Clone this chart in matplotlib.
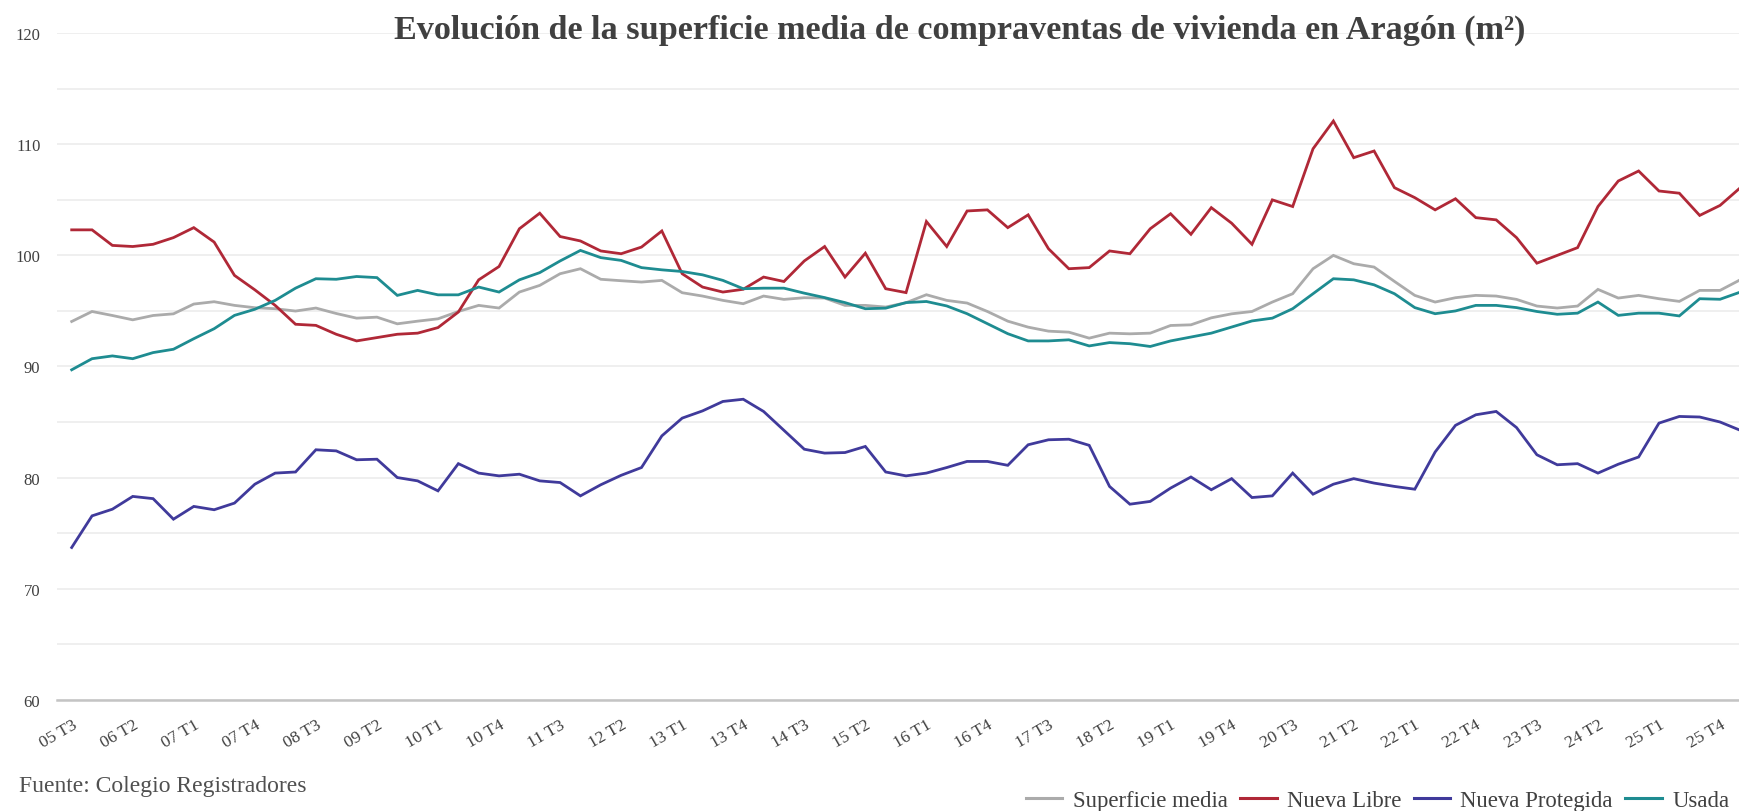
import numpy as np
import matplotlib
matplotlib.use("Agg")
from matplotlib import pyplot as plt
from matplotlib.lines import Line2D

plt.rcParams['font.family'] = ['Liberation Serif', 'DejaVu Serif']

# trimestres 05 T3 ... 26 T1
trimestres = [f"{a % 100:02d} T{t}" for a in range(2005, 2027) for t in range(1, 5)]
trimestres = trimestres[2:2 + 83]

superficie_media = [
    94.05, 94.95, 94.59, 94.20, 94.59, 94.74, 95.62, 95.83, 95.50, 95.29,
    95.20, 94.99, 95.26, 94.77, 94.35, 94.44, 93.84, 94.08, 94.29, 94.95,
    95.50, 95.26, 96.70, 97.30, 98.35, 98.80, 97.85, 97.72, 97.60, 97.75,
    96.64, 96.34, 95.95, 95.65, 96.34, 96.04, 96.19, 96.16, 95.50, 95.50,
    95.35, 95.74, 96.46, 95.95, 95.71, 94.95, 94.08, 93.54, 93.18, 93.09,
    92.55, 93.00, 92.94, 93.00, 93.69, 93.75, 94.38, 94.74, 94.95, 95.80,
    96.55, 98.80, 100.0, 99.25, 98.95, 97.66, 96.40, 95.80, 96.19, 96.40,
    96.34, 96.04, 95.44, 95.26, 95.44, 96.94, 96.16, 96.40, 96.10, 95.86,
    96.85, 96.85, 97.81]

nueva_libre = [
    102.3, 102.3, 100.9, 100.8, 101.0, 101.6, 102.5, 101.2, 98.2, 96.9,
    95.5, 93.8, 93.7, 92.9, 92.3, 92.6, 92.9, 93.0, 93.5, 94.9,
    97.8, 99.0, 102.4, 103.8, 101.7, 101.3, 100.4, 100.15, 100.75, 102.2,
    98.35, 97.15, 96.7, 96.95, 98.05, 97.65, 99.5, 100.8, 98.05, 100.2,
    97.0, 96.65, 103.05, 100.8, 104.0, 104.1, 102.5, 103.65, 100.6, 98.8,
    98.9, 100.4, 100.15, 102.4, 103.75, 101.9, 104.3, 102.9, 101.0, 105.0,
    104.4, 109.6, 112.1, 108.8, 109.4, 106.1, 105.2, 104.1, 105.1, 103.4,
    103.2, 101.6, 99.3, 100.0, 100.7, 104.4, 106.7, 107.6, 105.8, 105.6,
    103.6, 104.5, 106.1]

nueva_protegida = [
    73.7, 76.55, 77.15, 78.3, 78.1, 76.25, 77.4, 77.1, 77.7, 79.4,
    80.4, 80.5, 82.5, 82.4, 81.6, 81.65, 80.0, 79.7, 78.8, 81.25,
    80.4, 80.15, 80.3, 79.7, 79.55, 78.35, 79.35, 80.2, 80.9, 83.75,
    85.35, 86.0, 86.85, 87.05, 85.95, 84.25, 82.55, 82.2, 82.25, 82.8,
    80.5, 80.15, 80.4, 80.9, 81.45, 81.45, 81.1, 82.95, 83.4, 83.45,
    82.9, 79.2, 77.6, 77.85, 79.05, 80.05, 78.9, 79.9, 78.2, 78.35,
    80.4, 78.5, 79.4, 79.9, 79.5, 79.2, 78.95, 82.3, 84.7, 85.65,
    85.95, 84.5, 82.05, 81.15, 81.25, 80.4, 81.2, 81.85, 84.9, 85.5,
    85.45, 85.0, 84.25]

usada = [
    89.7, 90.7, 90.95, 90.7, 91.25, 91.55, 92.5, 93.4, 94.6, 95.15,
    95.95, 97.05, 97.9, 97.85, 98.1, 98.0, 96.4, 96.85, 96.45, 96.45,
    97.15, 96.7, 97.8, 98.45, 99.5, 100.45, 99.8, 99.55, 98.9, 98.7,
    98.55, 98.25, 97.75, 97.0, 97.05, 97.05, 96.6, 96.2, 95.75, 95.2,
    95.25, 95.75, 95.85, 95.45, 94.75, 93.85, 92.95, 92.3, 92.3, 92.4,
    91.85, 92.15, 92.05, 91.8, 92.3, 92.65, 93.0, 93.55, 94.1, 94.35,
    95.2, 96.55, 97.9, 97.8, 97.35, 96.55, 95.3, 94.75, 95.0, 95.5,
    95.5, 95.3, 94.95, 94.7, 94.8, 95.8, 94.6, 94.8, 94.8, 94.55,
    96.1, 96.05, 96.7]

series = [
    ("Superficie media", superficie_media, "#ababab"),
    ("Nueva Libre", nueva_libre, "#b02837"),
    ("Nueva Protegida", nueva_protegida, "#403a9b"),
    ("Usada", usada, "#1e8c91"),
]

fig = plt.figure(figsize=(17.39, 8.12), dpi=100)
ax = fig.add_axes([0.0328, 0.1371, 0.9914, 0.8207])

x = np.arange(len(trimestres))
for nombre, valores, color in series:
    ax.plot(x, valores, color=color, lw=2.0, label=nombre, solid_joinstyle='miter')

ax.set_xlim(-0.72, 84)
ax.set_ylim(60, 120)
ax.set_yticks(np.arange(60, 121, 10))
ax.set_yticks(np.arange(65, 120, 10), minor=True)
ax.grid(axis='y', which='both', color='#ececec', lw=1.2)
ax.set_axisbelow(True)
for s in ['top', 'right', 'left']:
    ax.spines[s].set_visible(False)
ax.spines['bottom'].set_color('#c4c4c4')
ax.spines['bottom'].set_linewidth(1.8)

ax.set_xticks(x[::3])
ax.set_xticklabels(trimestres[::3], rotation=30, ha='right', va='top',
                   rotation_mode='anchor', fontsize=12.5, color='#404040')
ax.tick_params(axis='x', length=0, pad=12)
ax.tick_params(axis='y', which='both', length=0, pad=12, labelsize=12, labelcolor='#404040')

fig.text(0.552, 0.963, "Evolución de la superficie media de compraventas de vivienda en Aragón (m²)",
         ha='center', va='center', fontsize=24.6, fontweight='bold', color='#404040')
fig.text(0.011, 0.032, "Fuente: Colegio Registradores", ha='left', va='center',
         fontsize=17, color='#505050')

# leyenda abajo a la derecha, pegada al borde
handles = [Line2D([], [], color=c, lw=2.2) for _, _, c in series]
fig.legend(handles, [n for n, _, _ in series], loc='center left',
           bbox_to_anchor=(1026 / 1739, 0.013), ncol=4, frameon=False,
           fontsize=16.4, handlelength=1.6, handletextpad=0.45,
           columnspacing=0.55, borderpad=0, borderaxespad=0, labelcolor='#404040')

fig.savefig("out.png", dpi=100)
